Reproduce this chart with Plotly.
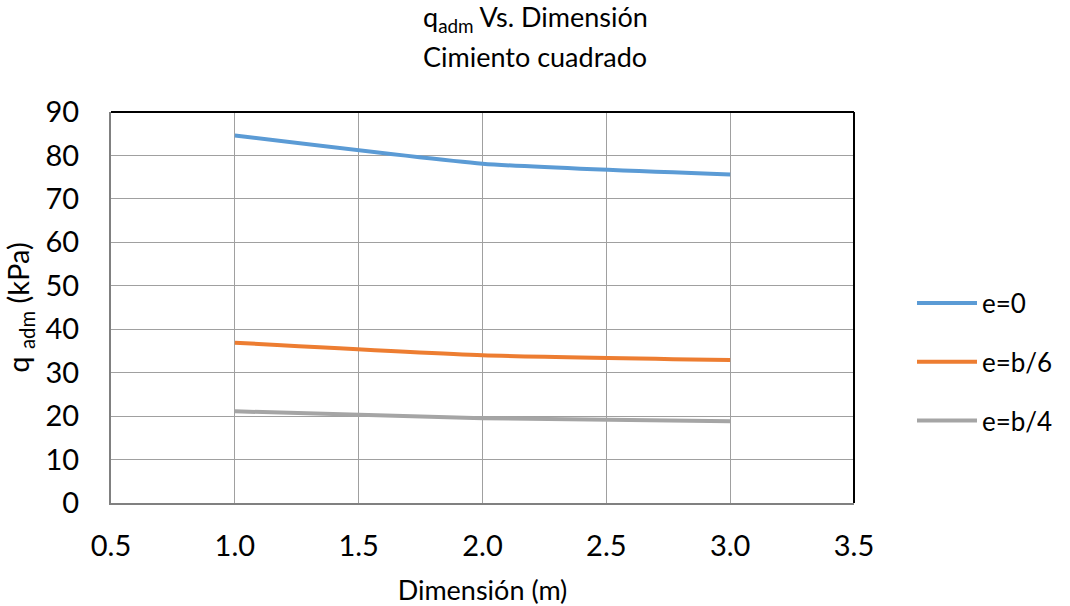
import plotly.graph_objects as go

dimension = [1.0, 2.0, 3.0]
q_e0 = [84.6, 78.1, 75.6]
q_b6 = [36.9, 34.0, 32.9]
q_b4 = [21.1, 19.5, 18.8]
series_names = ["e=0", "e=b/6", "e=b/4"]
colors = ["#5B9BD5", "#ED7D31", "#A5A5A5"]

fig = go.Figure()
for i, (name, ys) in enumerate(zip(series_names, [q_e0, q_b6, q_b4])):
    fig.add_trace(go.Scatter(
        x=dimension, y=ys, mode="lines", name=name, legendgroup=name,
        line=dict(color=colors[i], width=4, shape="spline", smoothing=0.5),
    ))

font_family = "Lato, 'Open Sans', sans-serif"
W, H = 1070, 606
ML, MR, MT, MB = 111, 216, 112, 103
plot_w = W - ML - MR
plot_h = H - MT - MB

fig.update_layout(
    width=W, height=H,
    paper_bgcolor="white", plot_bgcolor="white",
    margin=dict(l=ML, r=MR, t=MT, b=MB),
    font=dict(family=font_family, color="#000", size=26),
    legend=dict(xref="container", yref="container",
                x=912 / W, y=1 - 362 / H, xanchor="left", yanchor="middle",
                font=dict(size=26), tracegroupgap=22, itemwidth=60,
                bgcolor="rgba(0,0,0,0)"),
    showlegend=True,
    annotations=[
        dict(text="q<sub>adm</sub> Vs. Dimensión", x=(W / 2 - ML) / plot_w, xref="paper",
             y=(H - MB - 18) / plot_h, yref="paper", yanchor="middle",
             showarrow=False, font=dict(size=27)),
        dict(text="Cimiento cuadrado", x=(W / 2 - ML) / plot_w, xref="paper",
             y=(H - MB - 57) / plot_h, yref="paper", yanchor="middle",
             showarrow=False, font=dict(size=27)),
    ],
)

fig.update_xaxes(range=[0.5, 3.5], dtick=0.5, tickformat=".1f", automargin=False,
                 showgrid=True, gridcolor="#A0A0A0", gridwidth=1,
                 showline=True, linecolor="#808080", linewidth=2,
                 ticks="", zeroline=False, ticklabelstandoff=16,
                 title=dict(text="Dimensión (m)", font=dict(size=27), standoff=30),
                 tickfont=dict(size=29))
fig.update_yaxes(range=[0, 90], dtick=10, automargin=False,
                 showgrid=True, gridcolor="#A0A0A0", gridwidth=1,
                 showline=True, linecolor="#808080", linewidth=2,
                 ticks="", zeroline=False, ticklabelstandoff=24,
                 title=dict(text="q <sub>adm</sub> (kPa)", font=dict(size=29), standoff=14),
                 tickfont=dict(size=29))
fig.add_shape(type="line", xref="paper", yref="paper", x0=0, x1=1, y0=1, y1=1,
              line=dict(color="#000", width=2))
fig.add_shape(type="line", xref="paper", yref="paper", x0=1, x1=1, y0=0, y1=1,
              line=dict(color="#000", width=2))

fig.write_html("out.html")
